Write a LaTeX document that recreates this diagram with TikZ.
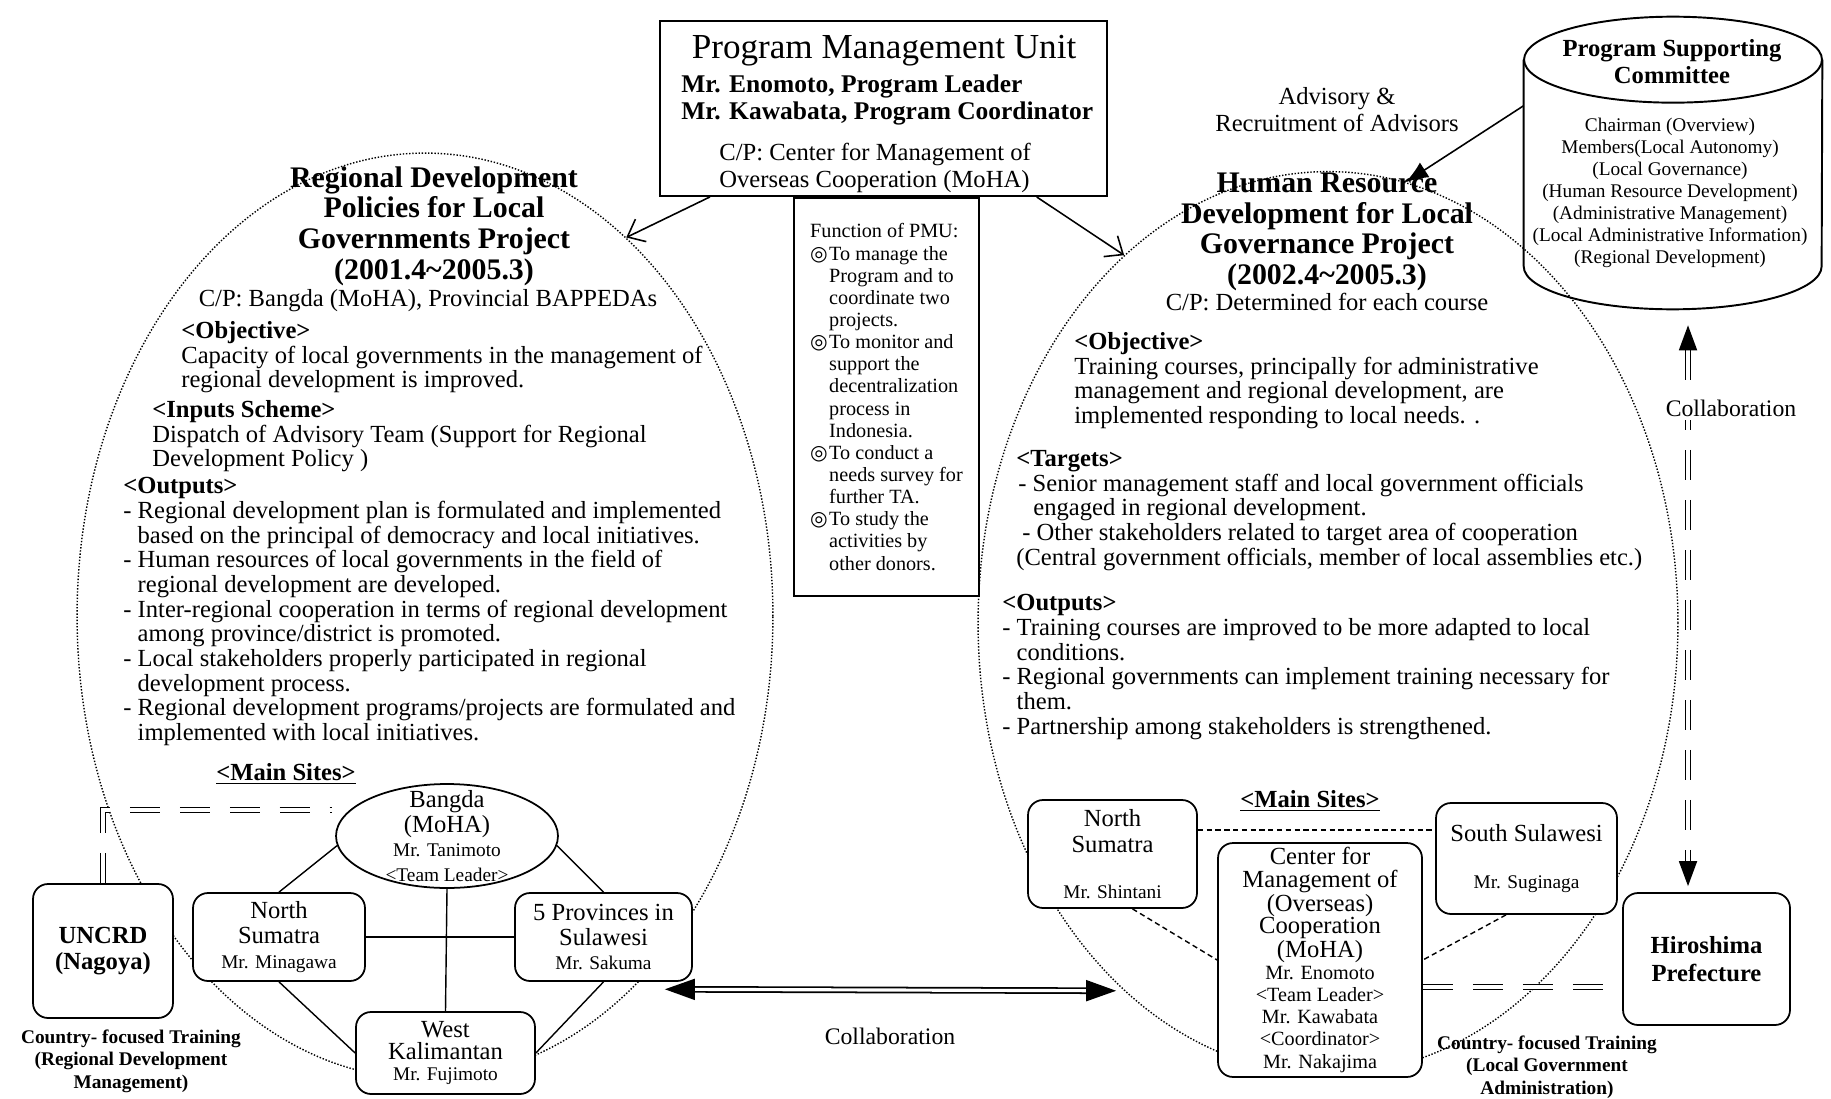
\documentclass[tikz,border=0pt]{standalone}
\usepackage{fontspec}
\setmainfont{Liberation Serif}
\newfontfamily\bullfont{DejaVu Sans}
\usetikzlibrary{shapes.geometric,arrows.meta,positioning,calc}
\newcommand{\fsz}[2]{\fontsize{#1}{#2}\selectfont}
\newcommand{\fnbul}{\makebox[0.38cm][l]{\bullfont\fsz{11.5}{11.5}◎}}
\newcommand{\fnind}{\hspace*{0.38cm}}

\begin{document}
\begin{tikzpicture}[x=0.02cm, y=-0.02cm,
    project/.style={ellipse, draw, densely dotted, line width=0.8pt, inner sep=0pt},
    unitbox/.style={rectangle, draw, line width=1.1pt, inner sep=0pt},
    funcbox/.style={rectangle, draw, line width=0.9pt, inner sep=0pt, align=left,
                    minimum width=3.7cm, minimum height=7.96cm, font=\fsz{11.5}{12.6}},
    committee/.style={rectangle, inner sep=0pt, minimum width=5.96cm, minimum height=5.84cm},
    site/.style={rectangle, rounded corners=0.3cm, draw, fill=white, line width=1pt, align=center,
                 inner sep=0pt, font=\fsz{14}{14}},
    heading/.style={align=center, inner sep=0pt, font=\fsz{17}{17.5}\bfseries},
    body/.style={align=left, anchor=north west, inner sep=0pt, font=\fsz{14}{14.05}},
    lbl/.style={align=center, inner sep=0pt, font=\fsz{14}{15.3}},
    note/.style={align=center, inner sep=0pt, font=\fsz{11}{12.8}\bfseries},
    link/.style={line width=0.8pt},
    dotlink/.style={line width=0.8pt, densely dashed},
    pointer/.style={line width=0.9pt, -{Straight Barb[length=0.3cm,width=0.5cm]}},
    twin/.style={double, double distance=1.8pt, line width=1pt},
    twindash/.style={twin, dash pattern=on 0.6cm off 0.4cm}
]
\useasboundingbox (0,0) rectangle (1831,1098);

% the two projects
\node[project, minimum width=13.92cm, minimum height=18.52cm] (lell) at (425,616) {};
\node[project, minimum width=14.0cm, minimum height=18.06cm] (rell) at (1328,623) {};

% program management unit
\node[unitbox, minimum width=8.94cm, minimum height=3.5cm] (pmu) at (883.5,108.5) {};
\node[inner sep=0pt, font=\fsz{20}{20}] (pmutitle) at (884,51) {Program Management Unit};
\node[body, font=\fsz{14.5}{15.9}\bfseries] (pmustaff) at (681,74) {Mr. Enomoto, Program Leader\\Mr. Kawabata, Program Coordinator};
\node[body, font=\fsz{14}{15.3}] (pmucp) at (719,143) {C/P: Center for Management of\\Overseas Cooperation (MoHA)};

\node[funcbox] (func) at (886.5,397) {Function of PMU:\\
\fnbul To manage the\\\fnind Program and to\\\fnind coordinate two\\\fnind projects.\\
\fnbul To monitor and\\\fnind support the\\\fnind decentralization\\\fnind process in\\\fnind Indonesia.\\
\fnbul To conduct a\\\fnind needs survey for\\\fnind further TA.\\
\fnbul To study the\\\fnind activities by\\\fnind other donors.};

% supporting committee (cylinder)
\node[committee] (psc) at (1673,163) {};
\draw[line width=1.1pt] ([yshift=-0.86cm]psc.north west) -- ([yshift=0.86cm]psc.south west)
    arc[start angle=180, end angle=360, x radius=2.98cm, y radius=0.86cm]
    -- ([yshift=-0.86cm]psc.north east);
\draw[line width=1.1pt] ([yshift=-0.86cm]psc.north) ellipse [x radius=2.98cm, y radius=0.86cm];
\node[heading, font=\fsz{14}{15.3}\bfseries] (psctitle) at (1672,62) {Program Supporting\\Committee};
\node[lbl, font=\fsz{11}{12.5}] (pscmembers) at (1670,193) {Chairman (Overview)\\Members(Local Autonomy)\\(Local Governance)\\(Human Resource Development)\\(Administrative Management)\\(Local Administrative Information)\\(Regional Development)};
\node[lbl] (advise) at (1337,110) {Advisory \&\\Recruitment of Advisors};

% left project text
\node[heading] (ltitle) at (434,226) {Regional Development\\Policies for Local\\Governments Project\\(2001.4\textasciitilde 2005.3)};
\node[lbl] (lcp) at (428,301) {C/P: Bangda (MoHA), Provincial BAPPEDAs};
\node[body] (lobj) at (181,321) {\textbf{<Objective>}\\Capacity of local governments in the management of\\regional development is improved.};
\node[body] (linput) at (152,400) {\textbf{<Inputs Scheme>}\\Dispatch of Advisory Team (Support for Regional\\Development Policy )};
\node[body] (lout) at (123,477) {\textbf{<Outputs>}\\
- Regional development plan is formulated and implemented\\
\phantom{- }based on the principal of democracy and local initiatives.\\
- Human resources of local governments in the field of\\
\phantom{- }regional development are developed.\\
- Inter-regional cooperation in terms of regional development\\
\phantom{- }among province/district is promoted.\\
- Local stakeholders properly participated in regional\\
\phantom{- }development process.\\
- Regional development programs/projects are formulated and\\
\phantom{- }implemented with local initiatives.};

% right project text
\node[heading] (rtitle) at (1327,232) {Human Resource\\Development for Local\\Governance Project\\(2002.4\textasciitilde 2005.3)};
\node[lbl] (rcp) at (1327,302) {C/P: Determined for each course};
\node[body] (robj) at (1074,332) {\textbf{<Objective>}\\Training courses, principally for administrative\\management and regional development, are\\implemented responding to local needs. .};
\node[body] (rtarget) at (1016,450) {\textbf{<Targets>}\\
\hspace*{0.04cm}- Senior management staff and local government officials\\
\hspace*{0.34cm}engaged in regional development.\\
\hspace*{0.12cm}- Other stakeholders related to target area of cooperation\\
(Central government officials, member of local assemblies etc.)};
\node[body] (rout) at (1002,594) {\textbf{<Outputs>}\\
- Training courses are improved to be more adapted to local\\
\phantom{- }conditions.\\
- Regional governments can implement training necessary for\\
\phantom{- }them.\\
- Partnership among stakeholders is strengthened.};

% left sites
\node[lbl, font=\fsz{14}{15}\bfseries] (lsites) at (286,774) {\underline{<Main Sites>}};
\node[ellipse, draw, fill=white, line width=1pt, minimum width=4.44cm, minimum height=2.08cm, inner sep=0pt] (bangda) at (447,836) {};
\node[lbl, font=\fsz{14}{14}] (bangdatxt) at (bangda) {Bangda\\(MoHA)\\{\fsz{11}{12}Mr. Tanimoto}\\{\fsz{11}{12}<Team Leader>}};
\node[site, minimum width=3.44cm, minimum height=1.76cm] (lns) at (279,937) {North\\Sumatra\\{\fsz{11}{12}Mr. Minagawa}};
\node[site, minimum width=3.54cm, minimum height=1.76cm] (sul5) at (603.5,937) {5 Provinces in\\Sulawesi\\{\fsz{11}{12}Mr. Sakuma}};
\node[site, minimum width=3.58cm, minimum height=1.64cm, font=\fsz{14}{12}] (wkal) at (445.5,1053) {West\\Kalimantan\\{\fsz{11}{12}Mr. Fujimoto}};
\node[site, minimum width=2.8cm, minimum height=2.68cm, font=\fsz{14}{14.7}\bfseries] (uncrd) at (103,951) {UNCRD\\(Nagoya)};
\node[note] (lnote) at (131,1061) {Country- focused Training\\(Regional Development\\Management)};

% right sites
\node[lbl, font=\fsz{14}{15}\bfseries] (rsites) at (1310,801) {\underline{<Main Sites>}};
\node[site, minimum width=3.38cm, minimum height=2.16cm, font=\fsz{14}{15.3}] (rns) at (1112.5,854) {North\\Sumatra\\[0.38cm]{\fsz{11}{12}Mr. Shintani}};
\node[site, minimum width=3.62cm, minimum height=2.22cm, font=\fsz{14}{15.3}] (ssul) at (1526.5,858.5) {South Sulawesi\\[0.4cm]{\fsz{11}{12}Mr. Suginaga}};
\node[site, minimum width=4.08cm, minimum height=4.68cm, font=\fsz{14}{12.6}] (cmoc) at (1320,960) {Center for\\Management of\\(Overseas)\\Cooperation\\(MoHA)\\{\fsz{11.5}{12}Mr. Enomoto}\\{\fsz{11.5}{12}<Team Leader>}\\{\fsz{11.5}{12}Mr. Kawabata}\\{\fsz{11.5}{12}<Coordinator>}\\{\fsz{11.5}{12}Mr. Nakajima}};
\node[site, minimum width=3.34cm, minimum height=2.64cm, font=\fsz{14}{15.9}\bfseries] (hiro) at (1706.5,959) {Hiroshima\\Prefecture};
\node[note] (rnote) at (1547,1067) {Country- focused Training\\(Local Government\\Administration)};

% management arrows
\draw[pointer] (pmu.207) -- (lell.62);
\draw[pointer] (pmu.330) -- (rell.119);
\draw[line width=0.9pt, -{Latex[length=0.45cm,width=0.35cm]}] (psc.159) -- (rell.80);

% left site links
\draw[link] (bangda.185) -- (lns.north);
\draw[link] (bangda.355) -- (sul5.north);
\draw[link] (bangda.south) -- (wkal.north);
\draw[link] (lns.east) -- (sul5.west);
\draw[link] (lns.south) -- (wkal.west);
\draw[link] (sul5.south) -- (wkal.east);
\draw[twindash, shorten >=0.36cm] (uncrd.north) |- (bangda.165);

% right site links
\draw[dotlink] ([yshift=0.48cm]rns.east) -- ([yshift=0.48cm]rns.east -| ssul.west);
\draw[dotlink] (rns.290) -- (cmoc.west);
\draw[dotlink] (ssul.250) -- (cmoc.east);
\draw[twindash] ([yshift=-0.54cm]cmoc.east) -- ([yshift=-0.54cm]cmoc.east -| hiro.west);

% collaboration
\draw[twin, {Triangle[length=0.6cm,width=0.42cm]}-{Triangle[length=0.6cm,width=0.42cm]},
      shorten <=0.66cm, shorten >=0.16cm] (lell.299) -- (rell.241);
\node[lbl, font=\fsz{13.5}{15}] (hcollab) at (890,1036) {Collaboration};
\draw[twindash, {Triangle[length=0.5cm,width=0.36cm]}-{Triangle[length=0.5cm,width=0.36cm]},
      shorten <=0.32cm, shorten >=0.12cm] ([xshift=0.3cm]psc.south) -- ([xshift=0.3cm]psc.south |- hiro.north);
\node[lbl, font=\fsz{13.5}{15}, fill=white, inner sep=2pt] (vcollab) at (1731,408) {Collaboration};
\end{tikzpicture}
\end{document}
